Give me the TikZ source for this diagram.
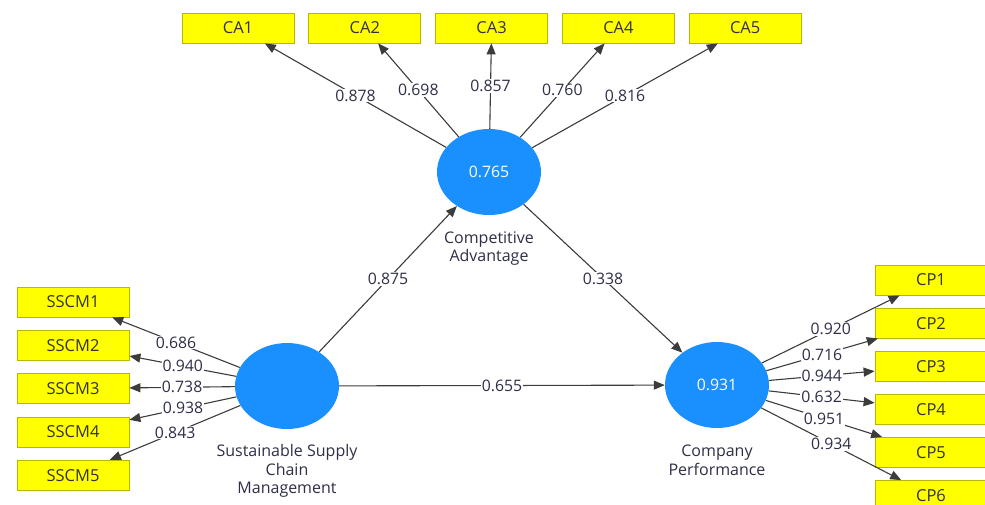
\documentclass[tikz,border=0pt]{standalone}
\usepackage{fontspec}
\setmainfont{Open Sans}
\usepackage{tikz}
\usetikzlibrary{shapes.geometric,arrows.meta,positioning}

\definecolor{indfill}{HTML}{FFFF00}
\definecolor{indline}{HTML}{B8B800}
\definecolor{lvblue}{HTML}{1A90FF}
\definecolor{pathgray}{HTML}{3C3C3C}
\definecolor{numtext}{HTML}{2E2E48}

\begin{document}
\begin{tikzpicture}[x=1pt, y=-1pt,
        indicator/.style={rectangle, draw=indline, fill=indfill, line width=0.8pt, minimum width=112pt, minimum height=30pt, inner sep=0pt, font=\fontsize{16.5}{18}\selectfont, text=black!80},
        construct/.style={ellipse, fill=lvblue, minimum width=104pt, minimum height=86pt, inner sep=0pt, text=white, font=\fontsize{15.8}{18}\selectfont},
        caption/.style={align=center, inner sep=0pt, font=\fontsize{16}{18.5}\selectfont, text=numtext},
        loading/.style={fill=white, inner sep=1pt, font=\fontsize{15.8}{18}\selectfont, text=numtext},
        arrow/.style={-{Triangle[length=11pt, width=9pt]}, draw=pathgray, line width=1.1pt}
    ]
    \useasboundingbox (0,0) rectangle (985,504);
    \clip (0,0) rectangle (985,504);

    % Latent variables
    \node[construct] (ca) at (489,172) {0.765};
    \node[construct] (sscm) at (287,386) {};
    \node[construct] (cp) at (717,385) {0.931};

    % Construct captions
    \node[caption, below=16pt of ca] (cacap) {Competitive\\Advantage};
    \node[caption, below=15pt of sscm] (sscmcap) {Sustainable Supply\\Chain\\Management};
    \node[caption, below=17pt of cp] (cpcap) {Company\\Performance};

    % Indicators: Competitive Advantage
    \node[indicator] (ca1) at (238,28) {CA1};
    \node[indicator, right=14pt of ca1] (ca2) {CA2};
    \node[indicator, right=14pt of ca2] (ca3) {CA3};
    \node[indicator, right=14pt of ca3] (ca4) {CA4};
    \node[indicator, right=14pt of ca4] (ca5) {CA5};

    % Indicators: Sustainable Supply Chain Management
    \node[indicator] (sscm1) at (73,302) {SSCM1};
    \node[indicator, below=12.5pt of sscm1] (sscm2) {SSCM2};
    \node[indicator, below=12.5pt of sscm2] (sscm3) {SSCM3};
    \node[indicator, below=12.5pt of sscm3] (sscm4) {SSCM4};
    \node[indicator, below=12.5pt of sscm4] (sscm5) {SSCM5};

    % Indicators: Company Performance
    \node[indicator] (cp1) at (931,280) {CP1};
    \node[indicator, below=12.3pt of cp1] (cp2) {CP2};
    \node[indicator, below=12.3pt of cp2] (cp3) {CP3};
    \node[indicator, below=12.3pt of cp3] (cp4) {CP4};
    \node[indicator, below=12.3pt of cp4] (cp5) {CP5};
    \node[indicator, below=12.3pt of cp5] (cp6) {CP6};

    % Outer loadings
    \draw[arrow] (ca) -- node[loading] {0.878} (ca1);
    \draw[arrow] (ca) -- node[loading] {0.698} (ca2);
    \draw[arrow] (ca) -- node[loading] {0.857} (ca3);
    \draw[arrow] (ca) -- node[loading] {0.760} (ca4);
    \draw[arrow] (ca) -- node[loading] {0.816} (ca5);

    \draw[arrow] (sscm) -- node[loading] {0.686} (sscm1);
    \draw[arrow] (sscm) -- node[loading] {0.940} (sscm2);
    \draw[arrow] (sscm) -- node[loading] {0.738} (sscm3);
    \draw[arrow] (sscm) -- node[loading] {0.938} (sscm4);
    \draw[arrow] (sscm) -- node[loading] {0.843} (sscm5);

    \draw[arrow] (cp) -- node[loading] {0.920} (cp1);
    \draw[arrow] (cp) -- node[loading] {0.716} (cp2);
    \draw[arrow] (cp) -- node[loading] {0.944} (cp3);
    \draw[arrow] (cp) -- node[loading] {0.632} (cp4);
    \draw[arrow] (cp) -- node[loading] {0.951} (cp5);
    \draw[arrow] (cp) -- node[loading] {0.934} (cp6);

    % Path coefficients
    \draw[arrow] (sscm) -- node[loading] {0.875} (ca);
    \draw[arrow] (ca) -- node[loading] {0.338} (cp);
    \draw[arrow] (sscm) -- node[loading] {0.655} (cp);

\end{tikzpicture}
\end{document}
